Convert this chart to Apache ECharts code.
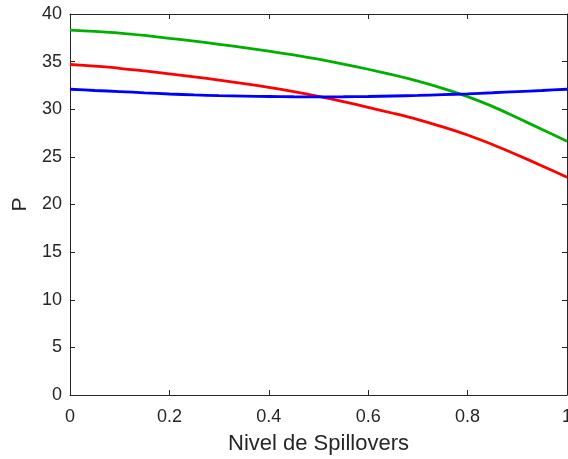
<!DOCTYPE html>
<html lang="es" style="height: 100%">
<head>
  <meta charset="utf-8">
</head>
<body style="height: 100%; margin: 0; background: #fff">
  <div id="container" style="width: 568px; height: 459px"></div>

  <script type="text/javascript" src="https://fastly.jsdelivr.net/npm/echarts@6/dist/echarts.min.js"></script>

  <script type="text/javascript">
    var spill = [0, 0.05, 0.1, 0.15, 0.2, 0.25, 0.3, 0.35, 0.4, 0.45, 0.5,
                 0.55, 0.6, 0.65, 0.7, 0.75, 0.8, 0.85, 0.9, 0.95, 1];
    var greenP = [38.3, 38.17, 38.0, 37.75, 37.45, 37.15, 36.82, 36.48, 36.1, 35.7, 35.25,
                  34.75, 34.2, 33.6, 32.95, 32.2, 31.33, 30.3, 29.1, 27.88, 26.65];
    var redP = [34.7, 34.52, 34.3, 34.02, 33.72, 33.4, 33.06, 32.7, 32.3, 31.85, 31.35,
                30.8, 30.2, 29.58, 28.92, 28.15, 27.3, 26.3, 25.2, 24.05, 22.85];
    var blueP = [32.1, 31.97, 31.86, 31.72, 31.6, 31.5, 31.43, 31.38, 31.34, 31.31, 31.3,
                 31.31, 31.34, 31.39, 31.45, 31.53, 31.62, 31.73, 31.85, 31.97, 32.1];

    var axisColor = '#262626';
    var font = 'Liberation Sans';

    function pairs(ys) {
      return spill.map(function (x, i) { return [x, ys[i]]; });
    }

    function line(ys, color) {
      return {
        type: 'line',
        data: pairs(ys),
        smooth: 0.3,
        symbol: 'none',
        lineStyle: { color: color, width: 2.8 },
        xAxisIndex: 0,
        yAxisIndex: 0
      };
    }

    var myChart = echarts.init(document.getElementById('container'), null, { renderer: 'canvas' });

    var xBase = {
      type: 'value', min: 0, max: 1, interval: 0.2,
      axisLine: { show: true, onZero: false, lineStyle: { color: axisColor, width: 1 } },
      axisTick: { show: true, inside: true, length: 5, lineStyle: { color: axisColor } },
      splitLine: { show: false }
    };
    var yBase = {
      type: 'value', min: 0, max: 40, interval: 5,
      axisLine: { show: true, onZero: false, lineStyle: { color: axisColor, width: 1 } },
      axisTick: { show: true, inside: true, length: 5, lineStyle: { color: axisColor } },
      splitLine: { show: false }
    };

    var option = {
      animation: false,
      grid: { left: 70, right: 1, top: 14, bottom: 64, outerBoundsMode: 'none' },
      xAxis: [
        Object.assign({}, xBase, {
          position: 'bottom',
          name: 'Nivel de Spillovers',
          nameLocation: 'middle',
          nameGap: 38,
          nameTextStyle: { color: axisColor, fontSize: 22, fontFamily: font },
          axisLabel: { color: axisColor, fontSize: 18, fontFamily: font, margin: 13 }
        }),
        Object.assign({}, xBase, { position: 'top', axisLabel: { show: false } })
      ],
      yAxis: [
        Object.assign({}, yBase, {
          position: 'left',
          name: 'P',
          nameLocation: 'middle',
          nameGap: 37,
          nameTextStyle: { color: axisColor, fontSize: 21, fontFamily: font },
          axisLabel: { color: axisColor, fontSize: 18, fontFamily: font, margin: 8 }
        }),
        Object.assign({}, yBase, { position: 'right', axisLabel: { show: false } })
      ],
      series: [
        line(greenP, '#00b000'),
        line(redP, '#ff0000'),
        line(blueP, '#0000ff')
      ]
    };

    myChart.setOption(option);
    window.addEventListener('resize', myChart.resize);
  </script>
</body>
</html>
